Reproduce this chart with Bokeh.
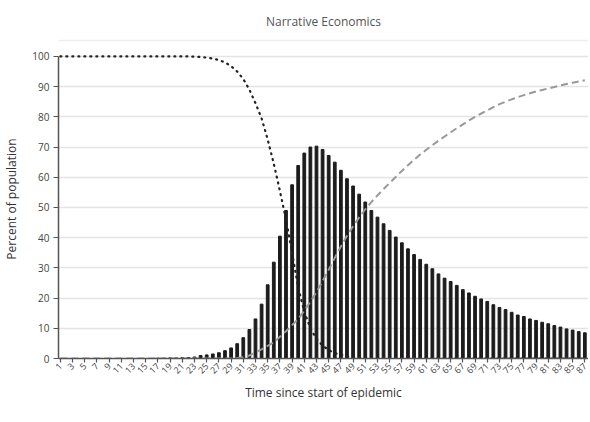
import math
from bokeh.plotting import figure
from bokeh.models import (ColumnDataSource, Legend, LegendItem, FixedTicker, Range1d, BoxAnnotation)
from bokeh.embed import file_html
from bokeh.resources import INLINE

# ---- data ----
days = list(range(1, 88))

infective = [0.0] * 16 + [
    0.1, 0.1, 0.2, 0.2,
    0.3, 0.3, 0.5, 1.0, 1.2, 1.5, 1.9, 2.6, 3.5, 4.9,
    6.9, 9.6, 13.1, 18.0, 24.4, 31.9, 40.5, 49.0, 57.5, 63.9,
    68.0, 70.0, 70.3, 69.2, 67.2, 65.0, 62.3, 59.5, 57.1, 54.4,
    51.8, 49.0, 46.8, 44.6, 42.4, 40.2, 38.3, 36.3, 34.4, 32.8,
    31.2, 29.7, 28.0, 26.6, 25.5, 24.2, 22.8, 21.7, 20.6, 19.7,
    18.9, 17.8, 16.9, 16.2, 15.3, 14.4, 13.9, 13.1, 12.6, 12.0,
    11.5, 10.9, 10.4, 9.8, 9.4, 8.9, 8.5,
]

susceptible = [100.0] * 22 + [
    99.9, 99.8, 99.6, 99.3, 98.8, 98.0, 96.8, 95.0,
    92.5, 89.0, 84.5, 79.5, 72.5, 64.5, 55.5, 46.0, 35.0, 23.5,
    15.5, 10.0, 6.5, 4.3, 2.8, 1.8, 1.2, 0.8, 0.5, 0.3,
    0.2, 0.1,
] + [0.0] * 35

recovered = [0.0] * 29 + [
    0.2, 0.4, 1.0, 2.0, 3.0, 4.2, 5.3, 7.2, 9.0, 11.0,
    13.1, 15.8, 18.8, 22.0, 25.6, 29.4, 33.3, 37.1, 40.6, 43.8,
    46.7, 49.4, 51.8, 54.0, 56.1, 58.1, 60.1, 62.1, 64.0, 65.8,
    67.5, 69.1, 70.6, 72.1, 73.5, 74.9, 76.2, 77.5, 78.8, 80.0,
    81.1, 82.1, 83.2, 84.2, 85.0, 85.8, 86.5, 87.2, 87.8, 88.4,
    88.9, 89.4, 89.9, 90.4, 90.9, 91.3, 91.7, 92.1,
]

x_ticks = list(range(1, 88, 2))
y_ticks = list(range(0, 101, 10))

title_text = "Narrative Economics"
x_label = "Time since start of epidemic"
y_label = "Percent of population"
series_names = ["Infective", "Susceptible", "Recovered"]

FONT = "Open Sans"

src = ColumnDataSource(dict(day=days, inf=infective, sus=susceptible, rec=recovered))

p = figure(frame_width=530, frame_height=319,
           x_range=Range1d(0.7, 87.6), y_range=Range1d(0, 105.6),
           output_backend="svg", toolbar_location=None,
           min_border_left=52, min_border_right=0,
           min_border_top=36, min_border_bottom=40)
p.outline_line_color = None
p.background_fill_color = "white"
p.border_fill_color = "white"

p.title.text = title_text
p.title.align = "center"
p.title.offset = -50
p.title.standoff = 20
p.title.text_font = FONT
p.title.text_font_size = "12px"
p.title.text_font_style = "normal"
p.title.text_color = "#555555"

# light separator under the title (top edge of the frame)
sep = BoxAnnotation(bottom=105.0, top=105.6, fill_color="#eeeeee", fill_alpha=1.0,
                    line_color=None)
p.add_layout(sep)

p.xgrid.visible = False
p.ygrid.ticker = FixedTicker(ticks=y_ticks)
p.ygrid.grid_line_color = "#e4e4e4"
p.ygrid.grid_line_width = 1.5

r_inf = p.vbar(x="day", top="inf", width=0.45, color="#1c1c1c", source=src)
r_sus = p.line(x="day", y="sus", line_color="#222222", line_width=2.2,
               line_dash="1 5", line_cap="round", source=src)
r_rec = p.line(x="day", y="rec", line_color="#999999", line_width=2,
               line_dash="7 4", source=src)

# y axis
ya = p.yaxis[0]
ya.ticker = FixedTicker(ticks=y_ticks)
ya.bounds = (0, 100)
ya.axis_line_color = "#555555"
ya.axis_line_width = 1.5
ya.major_tick_line_color = "#555555"
ya.major_tick_line_width = 1.2
ya.major_tick_out = 5
ya.major_tick_in = 0
ya.minor_tick_line_color = None
ya.major_label_text_font = FONT
ya.major_label_text_font_size = "10px"
ya.major_label_text_color = "#444444"
ya.major_label_standoff = 4
ya.axis_label = y_label
ya.axis_label_text_font = FONT
ya.axis_label_text_font_size = "12px"
ya.axis_label_text_font_style = "normal"
ya.axis_label_text_color = "#333333"
ya.axis_label_standoff = 9

# x axis
xa = p.xaxis[0]
xa.ticker = FixedTicker(ticks=x_ticks)
xa.axis_line_color = "#555555"
xa.axis_line_width = 1.5
xa.major_tick_line_color = "#555555"
xa.major_tick_line_width = 1.2
xa.major_tick_out = 4
xa.major_tick_in = 0
xa.minor_tick_line_color = None
xa.major_label_orientation = math.pi / 4
xa.major_label_text_font = FONT
xa.major_label_text_font_size = "9px"
xa.major_label_text_color = "#444444"
xa.major_label_standoff = 2
xa.axis_label = x_label
xa.axis_label_text_font = FONT
xa.axis_label_text_font_size = "12px"
xa.axis_label_text_font_style = "normal"
xa.axis_label_text_color = "#333333"
xa.axis_label_standoff = 4

legend = Legend(items=[
    LegendItem(label=series_names[0], renderers=[r_inf]),
    LegendItem(label=series_names[1], renderers=[r_sus]),
    LegendItem(label=series_names[2], renderers=[r_rec]),
], orientation="horizontal", location="center")
legend.label_text_font = FONT
legend.label_text_font_size = "12px"
legend.label_text_color = "#333333"
legend.glyph_width = 28
legend.glyph_height = 6
legend.label_standoff = 4
legend.spacing = 10
legend.padding = 1
legend.margin = 0
legend.border_line_color = None
legend.background_fill_alpha = 0
p.add_layout(legend, "below")

open("out.html", "w").write(file_html(p, INLINE))
